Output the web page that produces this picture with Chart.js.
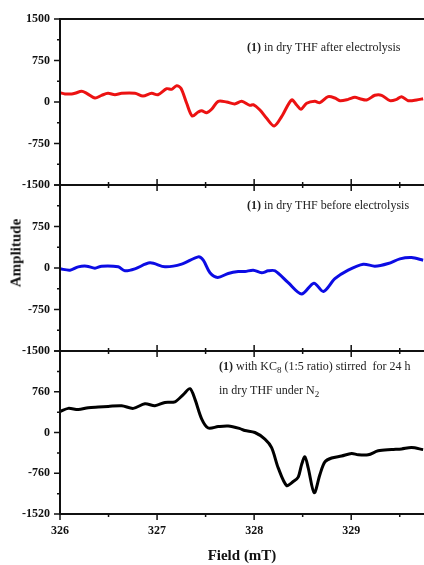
<!DOCTYPE html>
<html lang="en">
<head>
  <meta charset="UTF-8">
  <title>EPR Amplitude vs Field</title>
  <script src="https://cdn.jsdelivr.net/npm/chart.js"></script>
  <style>
    body { margin: 0; background: #fff; }
    #wrap { position: relative; width: 424px; height: 565px; overflow: hidden; font-family: "Liberation Serif", serif; }
    canvas { position: absolute; left: 0; }
    .note { position: absolute; font-size: 12px; line-height: 14px; color: #222; white-space: pre; }
    .note b { font-weight: bold; }
    .note sub { font-size: 9px; line-height: 0; }
    .ytitle {
      position: absolute; left: 16px; top: 253px;
      transform: translate(-50%, -50%) rotate(-90deg);
      font-size: 15px; font-weight: bold; color: #111;
    }
  </style>
</head>
<body>
<div id="wrap">
  <canvas id="after" width="424" height="200" style="top:0px"></canvas>
  <canvas id="before" width="424" height="200" style="top:170px"></canvas>
  <canvas id="kc8" width="424" height="229" style="top:336px"></canvas>

  <div class="note" style="left:247px; top:40px;"><b>(1)</b> in dry THF after electrolysis</div>
  <div class="note" style="left:247px; top:198px;"><b>(1)</b> in dry THF before electrolysis</div>
  <div class="note" style="left:219px; top:359px;"><b>(1)</b> with KC<sub>8</sub> (1:5 ratio) stirred  for 24 h</div>
  <div class="note" style="left:219px; top:383px;">in dry THF under N<sub>2</sub></div>
  <div class="ytitle">Amplitude</div>
</div>

<script>
  // Field values (mT) and amplitudes for each spectrum
  const afterField = [326.000, 326.051, 326.120, 326.154, 326.223, 326.275, 326.360, 326.429, 326.494, 326.566,
    326.635, 326.772, 326.855, 326.944, 327.009, 327.099, 327.150, 327.202, 327.246, 327.305,
    327.362, 327.424, 327.459, 327.511, 327.562, 327.630, 327.717, 327.800, 327.871, 327.957,
    327.991, 328.060, 328.129, 328.207, 328.283, 328.386, 328.438, 328.482, 328.541, 328.626,
    328.678, 328.763, 328.832, 328.884, 328.969, 329.038, 329.090, 329.159, 329.244, 329.313,
    329.399, 329.468, 329.519, 329.587, 329.674, 329.741];
  const afterAmp = [168, 145, 145, 157, 193, 157, 72, 121, 157, 132,
    157, 157, 108, 157, 132, 240, 229, 295, 247, -23,
    -253, -181, -157, -193, -132, 13, 0, -35, 13, -60,
    -49, -145, -295, -434, -265, 36, -54, -132, -23, 13,
    -12, 96, 72, 24, 48, 84, 60, 36, 121, 121,
    24, 48, 96, 24, 36, 60];

  const beforeField = [326.000, 326.103, 326.188, 326.275, 326.360, 326.429, 326.600, 326.669, 326.772, 326.927,
    327.081, 327.253, 327.424, 327.476, 327.545, 327.624, 327.733, 327.836, 327.905, 327.991,
    328.077, 328.145, 328.214, 328.351, 328.489, 328.616, 328.714, 328.832, 328.969, 329.124,
    329.244, 329.381, 329.502, 329.622, 329.741];
  const beforeAmp = [-15, -39, 21, 33, -3, 33, 21, -50, -15, 93,
    21, 69, 201, 141, -87, -171, -99, -63, -63, -39,
    -87, -51, -51, -266, -470, -275, -425, -194, -39, 69,
    33, 81, 165, 189, 141];

  const kc8Field = [326.000, 326.085, 326.188, 326.291, 326.394, 326.497, 326.635, 326.755, 326.875, 326.978,
    327.081, 327.184, 327.270, 327.339, 327.390, 327.459, 327.527, 327.630, 327.733, 327.854,
    327.905, 328.008, 328.111, 328.180, 328.248, 328.335, 328.403, 328.454, 328.489, 328.523,
    328.557, 328.619, 328.678, 328.729, 328.798, 328.901, 329.004, 329.072, 329.175, 329.278,
    329.416, 329.519, 329.622, 329.741];
  const kc8Amp = [390, 450, 427, 463, 476, 487, 500, 450, 536, 500,
    560, 573, 707, 817, 622, 256, 84, 110, 121, 73,
    37, 0, -123, -282, -659, -989, -915, -831, -599, -452,
    -659, -1124, -782, -549, -476, -439, -392, -416, -416, -342,
    -319, -306, -282, -319];

  const fieldMajor = [326, 327, 328, 329];
  const fieldMinor = [326.5, 327.5, 328.5, 329.5];

  // axis lines plus major/minor tick marks
  const frame = {
    id: 'frame',
    afterDatasetsDraw(chart, args, opts) {
      const { ctx, chartArea: a, scales: { x, y } } = chart;
      ctx.save();
      ctx.strokeStyle = '#111';
      ctx.lineWidth = 2;
      ctx.beginPath();
      ctx.moveTo(a.left, a.top - 1);
      ctx.lineTo(a.left, a.bottom + 1);
      if (opts.top) {
        ctx.moveTo(a.left, a.top);
        ctx.lineTo(a.right, a.top);
      }
      ctx.moveTo(a.left, a.bottom);
      ctx.lineTo(a.right, a.bottom);
      ctx.stroke();

      ctx.lineWidth = 1.5;
      ctx.beginPath();
      y.ticks.forEach((t, i) => {
        const py = y.getPixelForValue(t.value);
        ctx.moveTo(a.left, py);
        ctx.lineTo(a.left - 6, py);
        if (i < y.ticks.length - 1) {
          const pm = y.getPixelForValue((t.value + y.ticks[i + 1].value) / 2);
          ctx.moveTo(a.left, pm);
          ctx.lineTo(a.left - 3, pm);
        }
      });
      const up = opts.cross ? 6 : 0;
      fieldMajor.forEach(v => {
        const px = x.getPixelForValue(v);
        ctx.moveTo(px, a.bottom - up);
        ctx.lineTo(px, a.bottom + 6);
      });
      fieldMinor.forEach(v => {
        const px = x.getPixelForValue(v);
        ctx.moveTo(px, a.bottom - (opts.cross ? 3 : 0));
        ctx.lineTo(px, a.bottom + 3);
      });
      ctx.stroke();
      ctx.restore();
    }
  };

  const tickFont = { family: 'Liberation Serif', size: 12, weight: 'bold' };

  function makePanel(id, field, amp, color, lim, step, pad, xOpts, frameOpts, hideTop) {
    new Chart(document.getElementById(id), {
      type: 'line',
      data: {
        datasets: [{
          data: field.map((f, i) => ({ x: f, y: amp[i] })),
          borderColor: color,
          borderWidth: 3,
          pointRadius: 0,
          tension: 0.3
        }]
      },
      options: {
        responsive: false,
        animation: false,
        layout: { padding: pad },
        plugins: { legend: { display: false }, tooltip: { enabled: false }, frame: frameOpts },
        scales: {
          x: Object.assign({
            type: 'linear',
            min: 326,
            max: 329.75,
            grid: { display: false, drawTicks: false },
            border: { display: false }
          }, xOpts),
          y: {
            min: -lim,
            max: lim,
            ticks: {
              stepSize: step,
              padding: 0,
              color: '#111',
              font: tickFont,
              callback: v => (hideTop && v === lim) ? '' : v
            },
            // tick marks are drawn by the frame plugin; this only spaces the labels
            grid: { display: false, drawTicks: true, tickLength: 10 },
            border: { display: false },
            afterFit: s => { s.width = 60; }
          }
        }
      },
      plugins: [frame]
    });
  }

  makePanel('after', afterField, afterAmp, 'rgb(236, 18, 18)', 1500, 750,
    { top: 19, bottom: 15, left: 0, right: 0 }, { display: false }, { top: true, cross: true }, false);

  makePanel('before', beforeField, beforeAmp, 'rgb(12, 12, 228)', 1500, 750,
    { top: 15, bottom: 19, left: 0, right: 0 }, { display: false }, { top: false, cross: true }, true);

  makePanel('kc8', kc8Field, kc8Amp, '#000', 1520, 760,
    { top: 15, bottom: 0, left: 0, right: 0 },
    {
      afterBuildTicks: s => { s.ticks = fieldMajor.map(v => ({ value: v })); },
      ticks: {
        padding: 0,
        color: '#111',
        font: tickFont
      },
      grid: { display: false, drawTicks: true, tickLength: 10 },
      title: {
        display: true,
        text: 'Field (mT)',
        color: '#111',
        font: { family: 'Liberation Serif', size: 15, weight: 'bold' },
        padding: { top: 0, bottom: 0 }
      },
      afterFit: s => { s.height = 51; }
    },
    { top: false, cross: false }, true);
</script>
</body>
</html>
